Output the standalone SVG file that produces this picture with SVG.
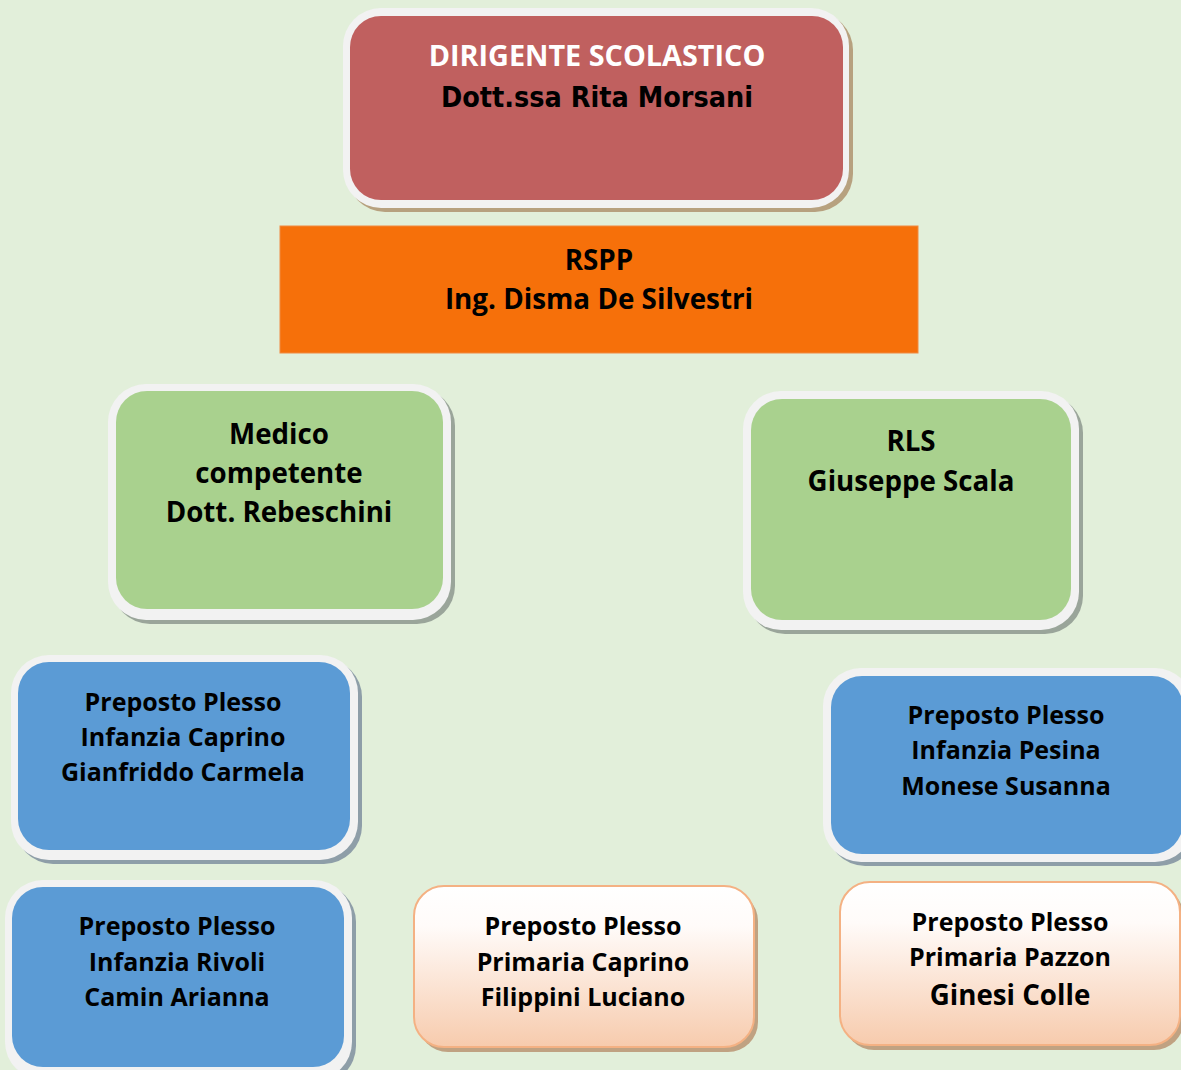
<svg xmlns="http://www.w3.org/2000/svg" width="1181" height="1070" viewBox="0 0 1181 1070">
<defs>
<linearGradient id="peach" x1="0" y1="0" x2="0" y2="1">
<stop offset="0" stop-color="#FFFFFF"/>
<stop offset="0.25" stop-color="#FFFBF9"/>
<stop offset="1" stop-color="#F7CBAD"/>
</linearGradient>
<style>
.t{font-family:"Open Sans","Noto Sans","DejaVu Sans",sans-serif;font-weight:bold;fill:#000;text-anchor:middle}
.rim{fill:#F2F2F2}
.sh{fill:#8E9EA8}
.blue{fill:#5B9BD5}
.green{fill:#A9D18E}
.pe{fill:url(#peach);stroke:#F4B183;stroke-width:2}
</style>
</defs>
<rect width="1181" height="1070" fill="#E2EFDA"/>
<g id="connectors"/>

<g id="dirigente">
<rect x="347" y="12" width="506" height="200" rx="38" fill="#B7A17F"/>
<rect x="343" y="8" width="506" height="200" rx="38" class="rim"/>
<rect x="350" y="16" width="493" height="184" rx="31" fill="#C0605F"/>
<text x="597" y="66" class="t" font-size="28.8" style="fill:#fff">DIRIGENTE SCOLASTICO</text>
<text x="597" y="107" font-family="'DejaVu Sans',sans-serif" font-weight="bold" font-size="28" text-anchor="middle" fill="#000" textLength="312" lengthAdjust="spacingAndGlyphs">Dott.ssa Rita Morsani</text>
</g>

<g id="rspp">
<rect x="280" y="226" width="638" height="127" fill="#F6700A" stroke="#F08A40" stroke-width="1"/>
<text x="599" y="270" class="t" font-size="27.8">RSPP</text>
<text x="599" y="309" class="t" font-size="27.8">Ing. Disma De Silvestri</text>
</g>

<g id="medico">
<rect x="112" y="388" width="343" height="236" rx="38" fill="#9AA59A"/>
<rect x="108" y="384" width="343" height="236" rx="38" class="rim"/>
<rect x="116" y="391" width="327" height="218" rx="31" class="green"/>
<text x="279" y="444" class="t" font-size="27.7">Medico</text>
<text x="279" y="483" class="t" font-size="27.7">competente</text>
<text x="279" y="522" class="t" font-size="27.7">Dott. Rebeschini</text>
</g>

<g id="rls">
<rect x="747" y="395" width="336" height="239" rx="38" fill="#9AA59A"/>
<rect x="743" y="391" width="336" height="239" rx="38" class="rim"/>
<rect x="751" y="399" width="320" height="221" rx="31" class="green"/>
<text x="911" y="451" class="t" font-size="27.7">RLS</text>
<text x="911" y="491" class="t" font-size="27.7">Giuseppe Scala</text>
</g>

<g id="infanzia-caprino">
<rect x="15" y="659" width="347" height="205" rx="38" class="sh"/>
<rect x="11" y="655" width="347" height="205" rx="38" class="rim"/>
<rect x="18" y="662" width="332" height="188" rx="31" class="blue"/>
<text x="183" y="711" class="t" font-size="25">Preposto Plesso</text>
<text x="183" y="746" class="t" font-size="25">Infanzia Caprino</text>
<text x="183" y="781" class="t" font-size="25">Gianfriddo Carmela</text>
</g>

<g id="infanzia-rivoli">
<rect x="9" y="884" width="347" height="200" rx="38" class="sh"/>
<rect x="5" y="880" width="347" height="200" rx="38" class="rim"/>
<rect x="12" y="887" width="332" height="180" rx="31" class="blue"/>
<text x="177" y="935" class="t" font-size="25">Preposto Plesso</text>
<text x="177" y="971" class="t" font-size="25">Infanzia Rivoli</text>
<text x="177" y="1006" class="t" font-size="25">Camin Arianna</text>
</g>

<g id="primaria-caprino">
<rect x="418" y="891" width="340" height="161" rx="30" fill="#C0A282"/>
<rect x="414" y="886" width="340" height="161" rx="30" class="pe"/>
<text x="583" y="935" class="t" font-size="25">Preposto Plesso</text>
<text x="583" y="971" class="t" font-size="25">Primaria Caprino</text>
<text x="583" y="1006" class="t" font-size="25">Filippini Luciano</text>
</g>

<g id="infanzia-pesina">
<rect x="827" y="672" width="370" height="194" rx="38" class="sh"/>
<rect x="823" y="668" width="370" height="194" rx="38" class="rim"/>
<rect x="831" y="676" width="352" height="178" rx="31" class="blue"/>
<text x="1006" y="724" class="t" font-size="25">Preposto Plesso</text>
<text x="1006" y="759" class="t" font-size="25">Infanzia Pesina</text>
<text x="1006" y="795" class="t" font-size="25">Monese Susanna</text>
</g>

<g id="primaria-pazzon">
<rect x="844" y="887" width="340" height="163" rx="30" fill="#C0A282"/>
<rect x="840" y="882" width="340" height="163" rx="30" class="pe"/>
<text x="1010" y="931" class="t" font-size="25">Preposto Plesso</text>
<text x="1010" y="966" class="t" font-size="25">Primaria Pazzon</text>
<text x="1010" y="1005" class="t" font-size="27.7">Ginesi Colle</text>
</g>
</svg>
